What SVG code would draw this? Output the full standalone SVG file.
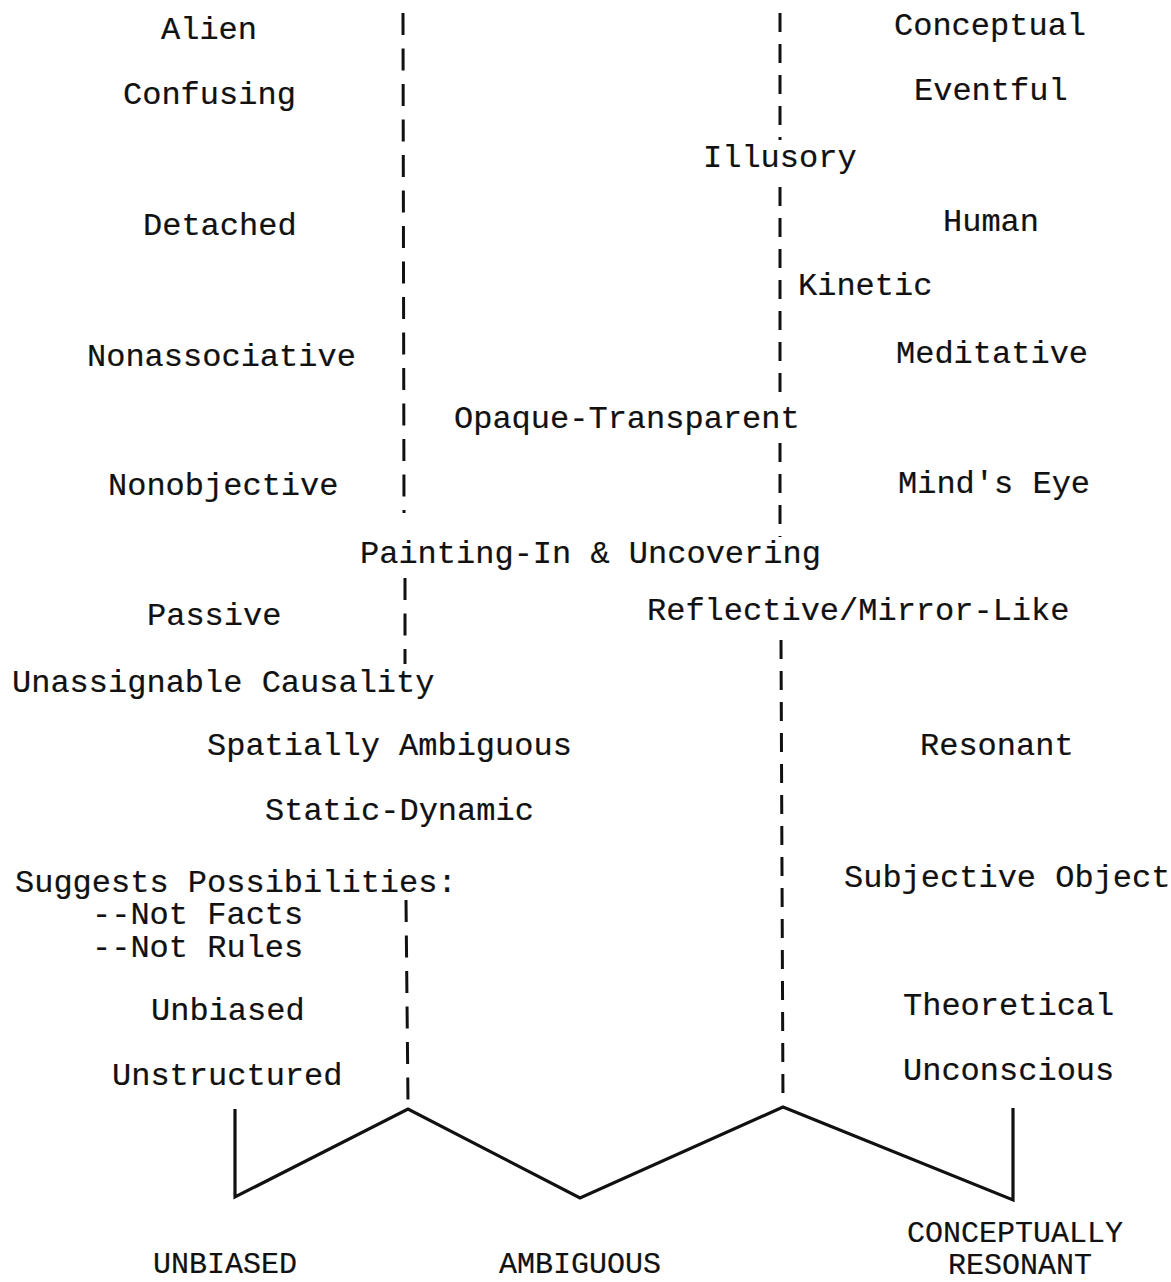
<svg xmlns="http://www.w3.org/2000/svg" width="1171" height="1282" viewBox="0 0 1171 1282">
<style>
  .t { font-family: "Liberation Mono", "Courier New", monospace; font-size: 32px; fill: #111; stroke: #111; stroke-width: 0.2; }
  .b { font-family: "Liberation Mono", "Courier New", monospace; font-size: 30px; fill: #111; stroke: #111; stroke-width: 0.2; }
  .dl { stroke: #111; stroke-width: 3; fill: none; stroke-dasharray: 22 13.5; }
  .dr { stroke: #111; stroke-width: 3; fill: none; stroke-dasharray: 19 12; }
  .z { stroke: #111; stroke-width: 3.2; fill: none; stroke-linejoin: miter; }
</style>
<rect width="1171" height="1282" fill="#fff"/>

<g id="connectors">
  <line class="dl" x1="403" y1="13" x2="404" y2="513"/>
  <line class="dl" x1="405" y1="578" x2="405" y2="664"/>
  <line class="dl" x1="406" y1="900" x2="408" y2="1102"/>
  <line class="dr" x1="780" y1="13" x2="780" y2="140"/>
  <line class="dr" x1="780" y1="187" x2="780" y2="402"/>
  <line class="dr" x1="780" y1="443" x2="780" y2="537"/>
  <line class="dr" x1="781" y1="640" x2="783" y2="1105"/>
  <polyline class="z" points="235,1109 235,1197 408,1109 580,1198 783,1107 1013,1200 1013,1108"/>
</g>

<g id="left-column">
  <g id="n-alien"><text class="t" x="161" y="39">Alien</text></g>
  <g id="n-confusing"><text class="t" x="123" y="104">Confusing</text></g>
  <g id="n-detached"><text class="t" x="143" y="235">Detached</text></g>
  <g id="n-nonassociative"><text class="t" x="87" y="366">Nonassociative</text></g>
  <g id="n-nonobjective"><text class="t" x="108" y="495">Nonobjective</text></g>
  <g id="n-passive"><text class="t" x="147" y="625">Passive</text></g>
  <g id="n-unassignable"><text class="t" x="12" y="692">Unassignable Causality</text></g>
  <g id="n-suggests">
    <text class="t" x="15" y="892">Suggests Possibilities:<tspan x="92" y="924">--Not Facts</tspan><tspan x="92" y="957">--Not Rules</tspan></text>
  </g>
  <g id="n-unbiased"><text class="t" x="151" y="1020">Unbiased</text></g>
  <g id="n-unstructured"><text class="t" x="112" y="1085">Unstructured</text></g>
</g>

<g id="middle-column">
  <g id="n-opaque"><text class="t" x="454" y="428">Opaque-Transparent</text></g>
  <g id="n-painting"><text class="t" x="360" y="563">Painting-In &amp; Uncovering</text></g>
  <g id="n-spatially"><text class="t" x="207" y="755">Spatially Ambiguous</text></g>
  <g id="n-static"><text class="t" x="265" y="820">Static-Dynamic</text></g>
  <g id="n-illusory"><text class="t" x="703" y="167">Illusory</text></g>
  <g id="n-kinetic"><text class="t" x="798" y="295">Kinetic</text></g>
  <g id="n-reflective"><text class="t" x="647" y="620">Reflective/Mirror-Like</text></g>
</g>

<g id="right-column">
  <g id="n-conceptual"><text class="t" x="894" y="35">Conceptual</text></g>
  <g id="n-eventful"><text class="t" x="914" y="100">Eventful</text></g>
  <g id="n-human"><text class="t" x="943" y="231">Human</text></g>
  <g id="n-meditative"><text class="t" x="896" y="363">Meditative</text></g>
  <g id="n-minds-eye"><text class="t" x="898" y="493">Mind's Eye</text></g>
  <g id="n-resonant"><text class="t" x="920" y="755">Resonant</text></g>
  <g id="n-subjective"><text class="t" x="844" y="887">Subjective Object</text></g>
  <g id="n-theoretical"><text class="t" x="903" y="1015">Theoretical</text></g>
  <g id="n-unconscious"><text class="t" x="903" y="1080">Unconscious</text></g>
</g>

<g id="bottom-labels">
  <g id="l-unbiased"><text class="b" x="153" y="1273">UNBIASED</text></g>
  <g id="l-ambiguous"><text class="b" x="499" y="1273">AMBIGUOUS</text></g>
  <g id="l-conceptually">
    <text class="b" x="907" y="1242">CONCEPTUALLY<tspan x="948" y="1274">RESONANT</tspan></text>
  </g>
</g>
</svg>
